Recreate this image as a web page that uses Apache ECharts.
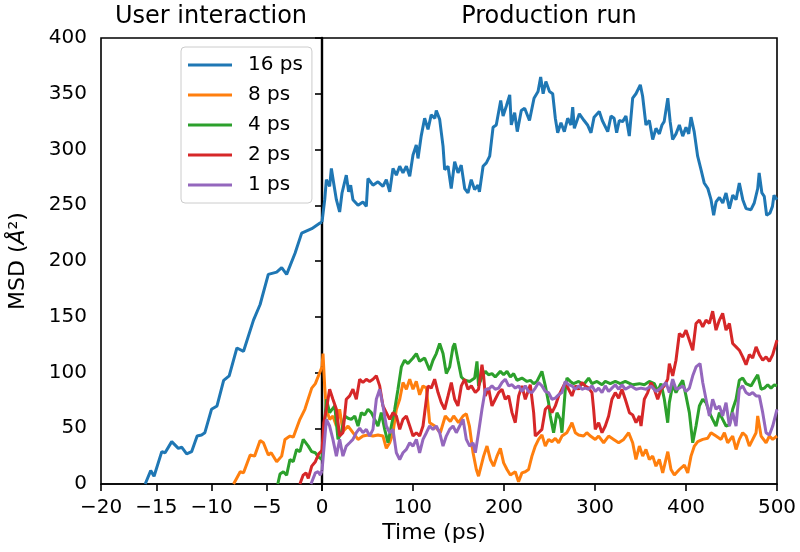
<!DOCTYPE html>
<html>
<head>
<meta charset="utf-8">
<script src="https://cdn.jsdelivr.net/npm/echarts@6/dist/echarts.min.js"></script>
<style>
  html, body { margin: 0; padding: 0; background: #fff; }
  #chart { width: 800px; height: 552px; }
</style>
</head>
<body>
<div id="chart"></div>
<script>
// names / colours of the runs
const runNames = ['16 ps', '8 ps', '4 ps', '2 ps', '1 ps']
const runColors = ['#1f77b4', '#ff7f0e', '#2ca02c', '#d62728', '#9467bd']

// user interaction part (time < 0)
const preT16 = [-16, -15.5, -15.2, -14.5, -14.2, -13.6, -13.0, -12.7, -12.25, -11.8, -11.3, -10.9, -10.6, -10.0, -9.5, -8.9, -8.4, -7.7, -7.1, -6.2, -5.6, -4.86, -4.1, -3.65, -3.2, -2.44, -1.84, -0.93, -0.18, 0]
const preV16 = [0, 12, 7, 29, 28, 38, 32, 33, 27, 29, 43, 44, 46, 67, 70, 93, 97, 122, 119, 147, 161, 188, 190, 194, 188, 207, 225, 229, 234, 235]
const preT8 = [-8, -7.4, -7.1, -6.5, -6.1, -5.6, -5.3, -4.86, -4.6, -4.1, -3.65, -3.35, -2.9, -2.6, -2.0, -1.55, -0.93, -0.6, -0.12, 0]
const preV8 = [0, 11, 10, 26, 25, 39, 37, 26, 28, 20, 25, 40, 43, 42, 58, 67, 86, 90, 102, 105]
const preT4 = [-4, -3.8, -3.5, -3.2, -2.9, -2.6, -2.3, -2.0, -1.7, -1.24, -0.93, -0.6, -0.3, 0]
const preV4 = [0, 9, 11, 8, 22, 20, 31, 29, 40, 34, 29, 28, 24, 22]
const preT2 = [-2, -1.7, -1.45, -1.24, -0.93, -0.6, -0.3, 0]
const preV2 = [0, 8, 10, 5, 16, 20, 27, 30]
const preT1 = [-1, -0.6, -0.35, -0.15, 0]
const preV1 = [0, 10, 11, 8, 12]

// production run part (time >= 0)
const runT16 = [0, 3, 4.8, 8.4, 10.3, 13.2, 15.8, 19.4, 22, 26.7, 29.3, 31.5, 34, 39.6, 45, 48.7, 50.5, 56, 61.5, 67, 70.7, 74.4, 78, 81.7, 85.4, 89, 92.7, 96.4, 100, 103.6, 105.5, 109, 112.8, 116.5, 120, 124, 125.6, 129.3, 133, 134.8, 138.5, 142, 145.8, 149.5, 153, 156.8, 160.4, 164, 167.7, 171.4, 173, 177, 180.6, 184.3, 188, 191.5, 196.4, 199, 202.6, 206.3, 208, 211.7, 214.6, 219, 222.7, 228, 233, 237.4, 240.3, 243, 246, 250, 253.5, 256.4, 259, 262.6, 266.3, 270, 273.6, 275.5, 277.3, 282.8, 288, 291.8, 295.6, 299, 304.7, 308, 314, 317.6, 321, 323.8, 326.7, 330.4, 334, 337.7, 341.4, 345, 349.8, 352.3, 356, 359.7, 363.4, 367, 370.7, 373.6, 376, 380, 382.6, 385.3, 389, 392.7, 396.4, 400, 403, 405.5, 409, 412.8, 416.5, 420, 424, 427.5, 430.4, 433, 436.7, 440.4, 444, 447.7, 451.4, 455, 458.6, 462.4, 466, 471.4, 475, 478.8, 480.4, 483.4, 486, 488.6, 492.3, 495, 496.7, 500]
const runV16 = [235, 255, 273, 267, 283, 268, 255, 244, 261, 277, 262, 268, 255, 250, 253, 249, 274, 268, 271, 267, 273, 262, 283, 277, 285, 279, 285, 276, 295, 304, 292, 312, 328, 318, 331, 328, 335, 327, 303, 282, 285, 265, 289, 279, 286, 265, 261, 273, 264, 268, 262, 285, 288, 294, 320, 322, 344, 330, 339, 349, 322, 333, 316, 335, 337, 326, 346, 352, 365, 350, 361, 352, 350, 328, 315, 324, 316, 328, 322, 338, 319, 332, 326, 322, 315, 329, 334, 326, 316, 330, 328, 315, 326, 325, 330, 312, 346, 350, 358, 348, 322, 326, 309, 319, 314, 322, 325, 346, 325, 309, 314, 322, 312, 320, 314, 329, 316, 294, 282, 270, 265, 255, 241, 253, 257, 252, 261, 247, 259, 255, 270, 255, 247, 246, 252, 265, 279, 261, 258, 241, 243, 249, 259, 255]

const runT8 = [0, 1.1, 3, 4.8, 8.4, 12, 15.8, 19.4, 23, 28.6, 34, 39.6, 45, 50.5, 56, 61.5, 67, 70.7, 74.4, 78, 81.7, 85.4, 89, 92.7, 96.4, 100, 103.6, 107.3, 111, 114.7, 118.3, 124, 130, 135.5, 141, 144.7, 150, 155, 158.6, 162, 166, 169.6, 172, 177.6, 181.3, 185, 188.6, 192.3, 196, 199.6, 203.3, 207, 212.4, 216, 219.7, 223.4, 227, 230.7, 234.4, 238, 241.7, 245.4, 249, 252.7, 256.4, 260, 263.7, 269, 273, 274.7, 278.4, 282, 287.5, 291, 295, 300.3, 304, 309.5, 315, 320.5, 326, 331.5, 337, 341.4, 345, 348.8, 352.4, 356, 359.7, 363.4, 367, 370.7, 374.4, 380, 383.5, 387.2, 392.7, 398.2, 401.9, 405.5, 409.2, 412.9, 418.4, 423.8, 427.5, 433, 438.5, 442.2, 445.8, 451.3, 455, 458.6, 462.3, 466, 469.6, 473.3, 477, 478.8, 482.5, 488, 491.6, 495.3, 500]
const runV8 = [105, 117, 87, 67, 58, 61, 52, 67, 47, 52, 46, 40, 43, 44, 43, 44, 43, 32, 37, 46, 67, 76, 91, 85, 94, 85, 92, 80, 88, 86, 55, 52, 46, 61, 56, 61, 55, 61, 63, 52, 28, 13, 7, 25, 34, 22, 16, 25, 32, 19, 13, 8, 11, 2, 10, 11, 13, 25, 34, 40, 44, 34, 40, 38, 41, 37, 43, 46, 52, 55, 46, 44, 43, 46, 43, 40, 43, 37, 43, 40, 37, 40, 46, 37, 22, 34, 25, 31, 22, 25, 16, 22, 10, 29, 13, 8, 13, 17, 10, 25, 34, 38, 40, 41, 46, 43, 40, 46, 37, 43, 31, 40, 46, 43, 34, 40, 46, 61, 43, 37, 43, 40, 43]

const runT4 = [0, 2, 4.8, 8.4, 14, 17.6, 21.2, 25, 28.6, 32.2, 36, 39.6, 43.2, 47, 50.5, 54.2, 57.9, 61.5, 65.2, 68.9, 72.5, 76.2, 79.9, 83.5, 87.2, 90.8, 94.5, 100, 103.7, 107.3, 112.8, 118.3, 122, 125.6, 129.3, 133, 136.6, 140.3, 144, 145.8, 149.4, 153.1, 156.8, 162.3, 167.8, 170.3, 172, 175.8, 179.5, 183, 186.8, 190.4, 196, 199.6, 203.3, 207, 210.6, 214.3, 219.7, 225.2, 229, 232.6, 236.2, 241.7, 245.4, 249, 250.9, 254.5, 258.2, 261.9, 263.7, 267.4, 269.2, 272.9, 276.5, 282, 287.5, 293, 296.7, 302.2, 307.7, 311.3, 316.8, 322.3, 327.8, 333.3, 341.4, 348.8, 354.2, 359.7, 365.2, 368.9, 372.6, 376.2, 379.9, 381.7, 385.4, 389, 392.7, 396.4, 400, 403.7, 407.4, 411, 414.7, 418.4, 422, 425.7, 429.3, 433, 436.7, 440.3, 444, 447.7, 451.3, 455, 458.6, 462.3, 466, 471.5, 475.1, 478.8, 482.5, 486.1, 489.8, 493.4, 497.1, 500]
const runV4 = [22, 45, 76, 64, 70, 40, 46, 61, 59, 58, 61, 52, 64, 62, 67, 64, 58, 52, 64, 49, 37, 52, 67, 85, 105, 111, 108, 113, 117, 110, 113, 102, 111, 117, 126, 117, 99, 105, 123, 126, 111, 96, 93, 92, 95, 110, 88, 96, 101, 98, 99, 96, 101, 98, 101, 96, 99, 93, 95, 92, 93, 90, 92, 101, 88, 73, 61, 46, 64, 58, 46, 85, 95, 92, 90, 92, 89, 95, 90, 92, 89, 92, 90, 92, 90, 92, 89, 90, 89, 92, 90, 83, 90, 76, 55, 73, 89, 82, 88, 93, 79, 64, 37, 52, 70, 76, 73, 64, 58, 52, 64, 58, 52, 53, 67, 76, 93, 95, 90, 88, 93, 98, 85, 86, 89, 86, 89, 88]

const runT2 = [0, 2, 4.8, 8.4, 12, 15.8, 19.4, 23, 26.7, 30.4, 34, 37.7, 41.4, 45, 48.7, 52.4, 56, 59.7, 63.4, 67, 70.7, 74.4, 78, 81.7, 85.4, 89, 92.7, 96.4, 100, 103.7, 107.3, 111, 114.7, 116.5, 120.1, 123.8, 127.5, 131.1, 134.8, 138.5, 142.1, 145.8, 149.4, 153.1, 156.8, 160.4, 164.1, 168.5, 172, 175.8, 177.6, 179.5, 183, 186.8, 190.4, 194.1, 197.8, 201.4, 205.1, 208.8, 212.4, 216.1, 219.7, 223.4, 228.9, 232.6, 234.4, 238, 241.7, 245.4, 249, 252.7, 256.4, 260, 263.7, 267.4, 271, 274.7, 278.4, 282, 285.7, 289.3, 293, 296.7, 298.5, 300.3, 304, 307.7, 311.3, 315, 318.6, 322.3, 326, 329.6, 333.3, 337.8, 341.4, 345.1, 348.8, 350.6, 354.2, 357.9, 361.6, 365.2, 368.9, 372.6, 376.2, 379.9, 381.7, 385.4, 389, 392.7, 396.4, 400, 403.7, 407.4, 411, 414.7, 418.4, 422, 425.7, 429.3, 433, 436.7, 440.3, 444, 447.7, 451.3, 455, 458.6, 462.3, 466, 469.6, 473.3, 477, 480.6, 484.3, 488, 491.6, 495.3, 500]
const runV2 = [30, 55, 67, 85, 76, 67, 43, 46, 76, 79, 85, 76, 94, 91, 94, 92, 94, 97, 88, 70, 64, 58, 64, 61, 49, 58, 61, 52, 43, 46, 43, 52, 76, 88, 86, 94, 82, 73, 67, 79, 91, 76, 70, 88, 94, 85, 88, 82, 85, 107, 97, 79, 86, 70, 76, 82, 85, 76, 79, 64, 55, 79, 88, 76, 89, 64, 43, 46, 49, 67, 70, 64, 70, 79, 85, 91, 85, 79, 88, 85, 91, 88, 86, 82, 67, 49, 55, 46, 52, 61, 76, 82, 77, 85, 76, 64, 62, 55, 61, 52, 76, 82, 91, 85, 76, 85, 88, 94, 108, 97, 111, 135, 132, 138, 129, 120, 144, 147, 141, 147, 144, 155, 138, 147, 153, 138, 144, 126, 123, 120, 114, 107, 116, 113, 123, 116, 111, 114, 110, 116, 129]

const runT1 = [0, 1.1, 4.8, 8.4, 12, 15.8, 19.4, 23, 26.7, 30.4, 34, 37.7, 41.4, 45, 48.7, 52.4, 56, 59.7, 63.4, 67, 70.7, 74.4, 78, 81.7, 85.4, 89, 92.7, 96.4, 100, 103.7, 107.3, 111, 114.7, 118.3, 122, 125.6, 129.3, 133, 136.6, 140.3, 144, 147.6, 151.3, 155, 158.6, 162.3, 166, 168.5, 172, 175.8, 179.5, 183, 186.8, 190.4, 194.1, 197.8, 201.4, 205.1, 208.8, 212.4, 216.1, 219.7, 223.4, 227, 230.7, 234.4, 238, 241.7, 245.4, 249, 252.7, 256.4, 260, 263.7, 267.4, 271, 274.7, 278.4, 282, 285.7, 289.3, 293, 296.7, 300.3, 304, 307.7, 311.3, 315, 318.6, 322.3, 326, 329.6, 333.3, 339.6, 345.1, 350.6, 356.1, 361.6, 367.1, 372.6, 378, 381.7, 385.4, 389, 392.7, 396.4, 400, 403.7, 407.4, 411, 415.4, 418.4, 422, 425.7, 429.3, 433, 436.7, 440.3, 444, 447.7, 451.3, 455, 458.6, 462.3, 466, 469.6, 473.3, 477, 480.6, 484.3, 488, 491.6, 495.3, 500]
const runV1 = [12, 22, 58, 52, 40, 25, 40, 25, 34, 37, 40, 46, 50, 46, 49, 43, 49, 76, 85, 70, 52, 46, 49, 28, 22, 28, 31, 37, 34, 40, 28, 40, 46, 52, 49, 52, 46, 34, 43, 49, 52, 46, 52, 58, 40, 34, 37, 28, 46, 67, 85, 85, 88, 85, 86, 91, 94, 88, 89, 86, 88, 83, 88, 83, 82, 86, 91, 88, 83, 82, 76, 77, 80, 82, 92, 89, 88, 85, 88, 85, 86, 85, 88, 83, 86, 82, 88, 83, 86, 89, 85, 89, 85, 88, 85, 86, 85, 88, 83, 86, 91, 82, 94, 85, 86, 88, 83, 86, 97, 105, 108, 91, 76, 61, 76, 67, 70, 61, 73, 52, 64, 52, 85, 88, 82, 80, 82, 79, 79, 64, 46, 44, 52, 67]

const preSets = [[preT16, preV16], [preT8, preV8], [preT4, preV4], [preT2, preV2], [preT1, preV1]]
const runSets = [[runT16, runV16], [runT8, runV8], [runT4, runV4], [runT2, runV2], [runT1, runV1]]

const FONT = 'DejaVu Sans'
const pairs = (ts, vs) => ts.map((t, i) => [t, vs[i]])
const minus = v => String(v).replace('-', '\u2212')

const chart = echarts.init(document.getElementById('chart'), null, { renderer: 'canvas' })

const axisLine = { show: true, lineStyle: { color: '#000', width: 1.6 } }
const axisTick = { show: true, length: 7, lineStyle: { color: '#000', width: 1.6 } }
const label = { color: '#000', fontSize: 20, fontFamily: FONT, margin: 14 }

const series = []
runNames.forEach((name, k) => {
  const line = { color: runColors[k], width: 3 }
  series.push({
    name, type: 'line', xAxisIndex: 0, yAxisIndex: 0,
    data: pairs(preSets[k][0], preSets[k][1]),
    showSymbol: false, symbol: 'none', lineStyle: line, itemStyle: { color: runColors[k] },
    animation: false
  })
  series.push({
    name, type: 'line', xAxisIndex: 1, yAxisIndex: 1,
    data: pairs(runSets[k][0], runSets[k][1]),
    showSymbol: false, symbol: 'none', lineStyle: line, itemStyle: { color: runColors[k] },
    animation: false
  })
})

const option = {
  backgroundColor: '#fff',
  animation: false,
  grid: [
    { left: 101, right: 478, top: 38, bottom: 68, show: true, borderColor: '#000', borderWidth: 1.6 },
    { left: 322, right: 23, top: 38, bottom: 68, show: true, borderColor: '#000', borderWidth: 1.6 }
  ],
  xAxis: [
    {
      gridIndex: 0, type: 'value', min: -20, max: 0, interval: 5,
      axisLine, axisTick, splitLine: { show: false },
      axisLabel: { ...label, formatter: v => (v === 0 ? '' : minus(v)) }
    },
    {
      gridIndex: 1, type: 'value', min: 0, max: 500, interval: 100,
      axisLine, axisTick, splitLine: { show: false },
      axisLabel: { ...label }
    }
  ],
  yAxis: [
    {
      gridIndex: 0, type: 'value', min: 0, max: 400, interval: 50,
      axisLine, axisTick, splitLine: { show: false },
      axisLabel: { ...label }
    },
    {
      // shared spine between the two panels, drawn a bit heavier
      gridIndex: 1, type: 'value', min: 0, max: 400, interval: 50,
      axisLine: { show: true, lineStyle: { color: '#000', width: 2.4 } },
      axisTick: { show: false }, splitLine: { show: false },
      axisLabel: { show: false }
    }
  ],
  legend: {
    data: runNames,
    orient: 'vertical',
    left: 181,
    top: 47,
    icon: 'rect',
    itemWidth: 44,
    itemHeight: 3,
    itemGap: 10,
    padding: [8, 9, 8, 7],
    backgroundColor: 'rgba(255,255,255,0.8)',
    borderColor: '#cccccc',
    borderWidth: 1,
    borderRadius: 4,
    textStyle: { color: '#000', fontSize: 20, fontFamily: FONT, lineHeight: 20, padding: [0, 0, 0, 11] }
  },
  graphic: [
    {
      type: 'text', x: 211, y: 17,
      style: { text: 'User interaction', fill: '#000', fontSize: 24, fontFamily: FONT, align: 'center', verticalAlign: 'middle' }
    },
    {
      type: 'text', x: 549, y: 17,
      style: { text: 'Production run', fill: '#000', fontSize: 24, fontFamily: FONT, align: 'center', verticalAlign: 'middle' }
    },
    {
      type: 'text', x: 434, y: 533,
      style: { text: 'Time (ps)', fill: '#000', fontSize: 22, fontFamily: FONT, align: 'center', verticalAlign: 'middle' }
    },
    {
      type: 'text', x: 18, y: 261, rotation: Math.PI / 2,
      style: {
        text: 'MSD ({i|Å}²)', fill: '#000', fontSize: 22, fontFamily: FONT, align: 'center', verticalAlign: 'middle',
        rich: { i: { fontStyle: 'italic', fontSize: 22, fontFamily: FONT, fill: '#000' } }
      }
    }
  ],
  series
}

chart.setOption(option)
</script>
</body>
</html>
